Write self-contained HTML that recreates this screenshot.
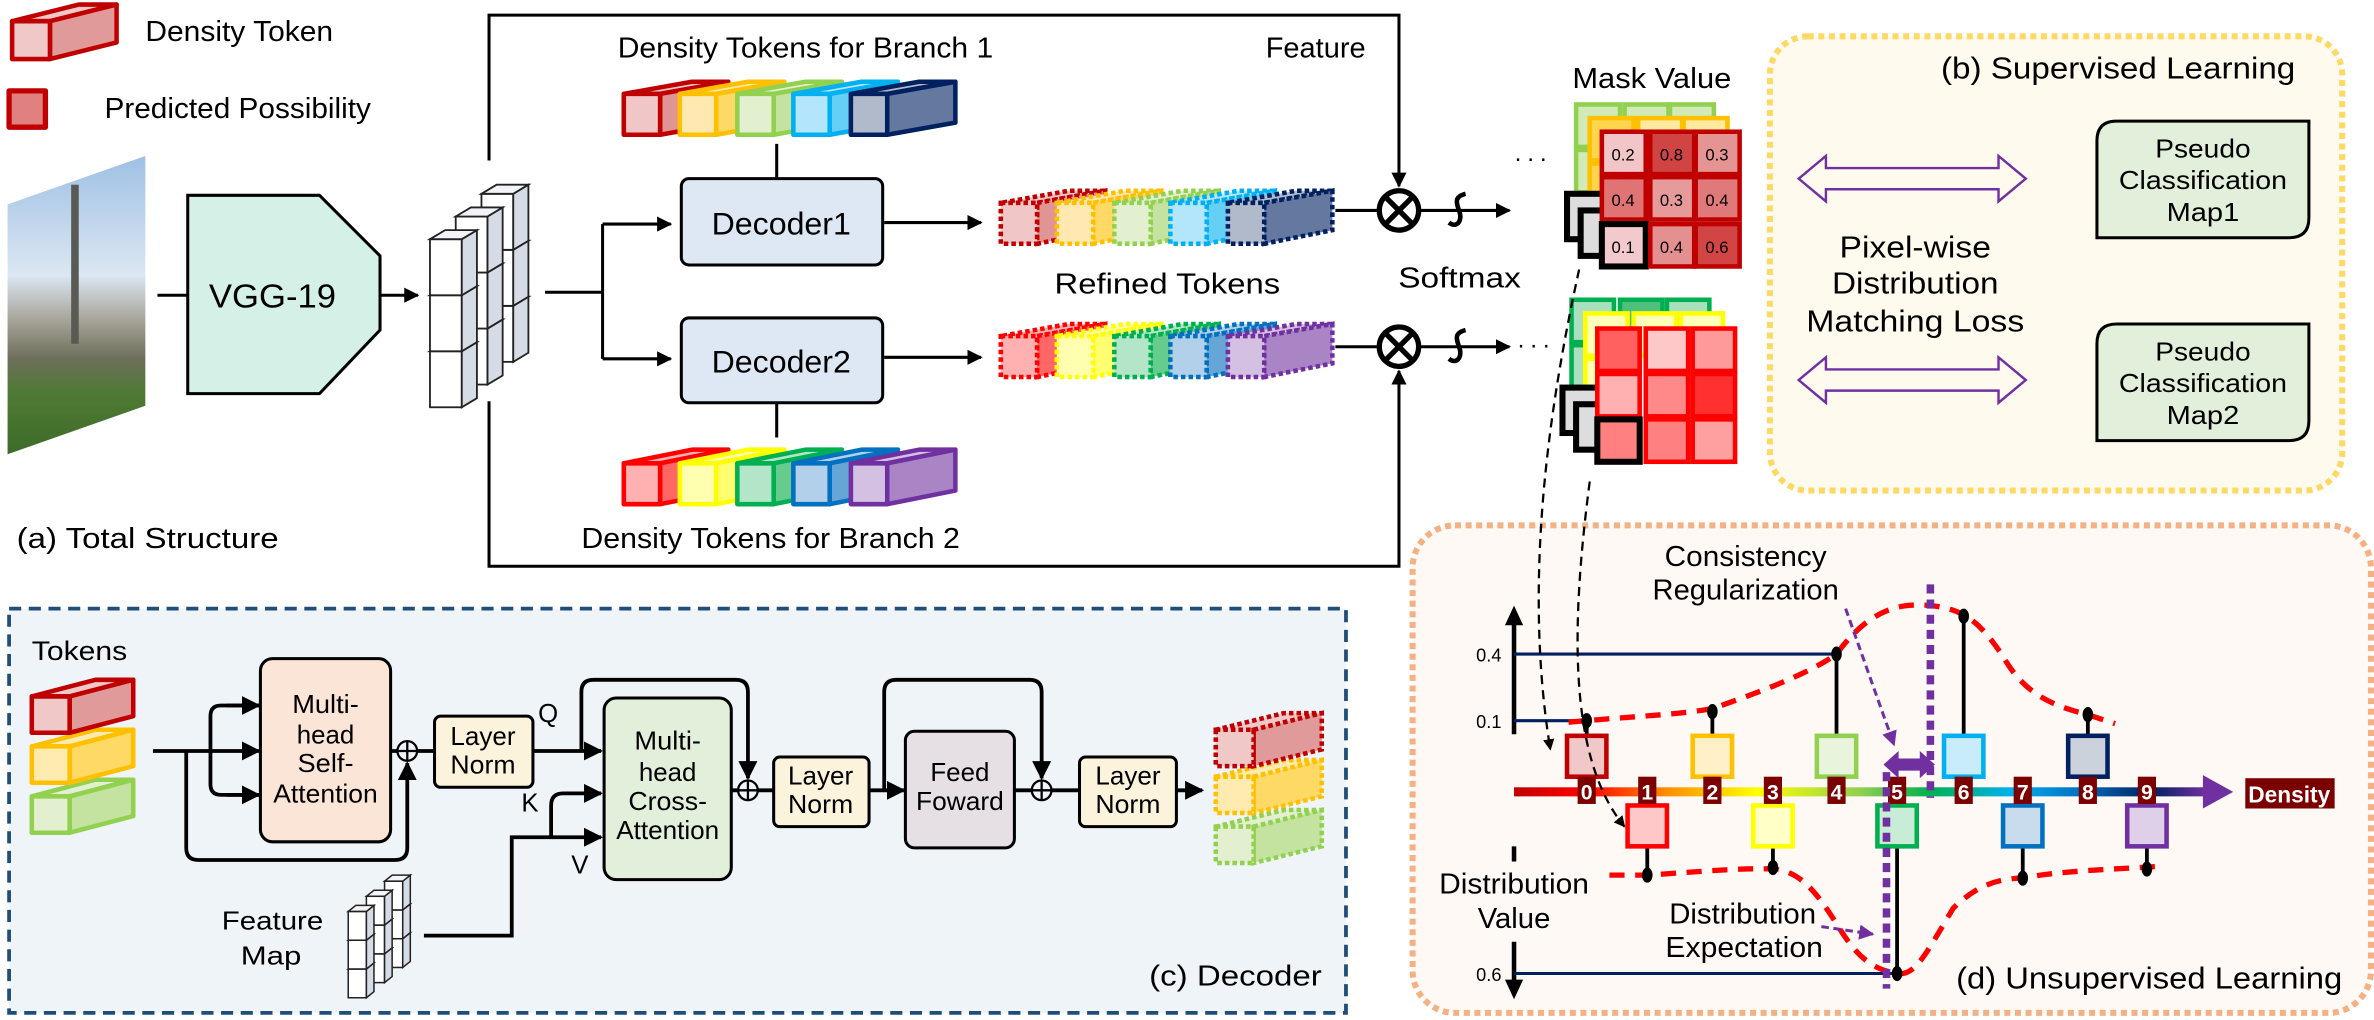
<!DOCTYPE html>
<html><head><meta charset="utf-8"><style>html,body{margin:0;padding:0;background:#fff}svg{display:block}text{font-family:"Liberation Sans",sans-serif;fill:#000}</style></head><body>
<svg width="2374" height="1020" viewBox="0 0 1568 673.7" preserveAspectRatio="none" xmlns="http://www.w3.org/2000/svg">
<defs>
<marker id="ah" viewBox="0 0 10 10" refX="9" refY="5" markerWidth="5" markerHeight="5" orient="auto"><path d="M0,0 L10,5 L0,10 z" fill="#000"/></marker>
<marker id="ap" viewBox="0 0 10 10" refX="9" refY="5" markerWidth="5" markerHeight="5" orient="auto"><path d="M0,0 L10,5 L0,10 z" fill="#7030a0"/></marker>
<linearGradient id="ax" x1="0" x2="1" y1="0" y2="0"><stop offset="0" stop-color="#c00000"/><stop offset=".1" stop-color="#ff0000"/><stop offset=".22" stop-color="#ff8c00"/><stop offset=".35" stop-color="#ffff00"/><stop offset=".5" stop-color="#92d050"/><stop offset=".6" stop-color="#00b050"/><stop offset=".72" stop-color="#00b0f0"/><stop offset=".82" stop-color="#0070c0"/><stop offset=".92" stop-color="#002060"/><stop offset="1" stop-color="#7030a0"/></linearGradient>
<linearGradient id="ph" x1="0" x2="0" y1="0" y2="1"><stop offset="0" stop-color="#9fc0e4"/><stop offset=".4" stop-color="#dbe7f2"/><stop offset=".55" stop-color="#a7a49a"/><stop offset=".68" stop-color="#6d6e5a"/><stop offset=".8" stop-color="#4e7a34"/><stop offset="1" stop-color="#3f6b2a"/></linearGradient>
</defs>

<!-- legend -->
<g stroke="#c00000" stroke-width="3" stroke-linejoin="round">
<polygon points="8,14 33,14 77,3 52,3" fill="#f0c8c8"/><polygon points="33,14 77,3 77,28 33,39" fill="#e09a9a"/><rect x="8" y="14" width="25" height="25" fill="#f0c8c8"/>
<rect x="6" y="60" width="24" height="24" fill="#e08080" stroke-width="3.5"/></g>
<text x="96" y="27" font-size="19" textLength="124" lengthAdjust="spacingAndGlyphs">Density Token</text>
<text x="69" y="78" font-size="19" textLength="176" lengthAdjust="spacingAndGlyphs">Predicted Possibility</text>

<!-- photo -->
<polygon points="5,135 96,103 96,268 5,300" fill="url(#ph)"/>
<rect x="47" y="122" width="5" height="105" fill="#5a5a55"/>
<!-- VGG -->
<path d="M104,195 H124" stroke="#000" stroke-width="2"/>
<polygon points="124,129 211,129 251,169 251,218 211,260 124,260" fill="#d5f0e6" stroke="#000" stroke-width="2"/>
<text x="180" y="203" font-size="22" text-anchor="middle" textLength="84" lengthAdjust="spacingAndGlyphs">VGG-19</text>
<path d="M251,195 H276" stroke="#000" stroke-width="2" marker-end="url(#ah)"/>

<!-- feature cubes -->
<g stroke="#222" stroke-width="1.2">
<g id="fc">
<rect x="318" y="202" width="21" height="37" fill="#fff"/><polygon points="339,202 349,196 349,233 339,239" fill="#d6dce5"/><polygon points="318,202 328,196 349,196 339,202" fill="#f2f4f8"/>
<rect x="318" y="165" width="21" height="37" fill="#fff"/><polygon points="339,165 349,159 349,196 339,202" fill="#d6dce5"/><polygon points="318,165 328,159 349,159 339,165" fill="#f2f4f8"/>
<rect x="318" y="128" width="21" height="37" fill="#fff"/><polygon points="339,128 349,122 349,159 339,165" fill="#d6dce5"/><polygon points="318,128 328,122 349,122 339,128" fill="#f2f4f8"/>
<rect x="301" y="217" width="21" height="37" fill="#fff"/><polygon points="322,217 332,211 332,248 322,254" fill="#d6dce5"/><polygon points="301,217 311,211 332,211 322,217" fill="#f2f4f8"/>
<rect x="301" y="180" width="21" height="37" fill="#fff"/><polygon points="322,180 332,174 332,211 322,217" fill="#d6dce5"/><polygon points="301,180 311,174 332,174 322,180" fill="#f2f4f8"/>
<rect x="301" y="143" width="21" height="37" fill="#fff"/><polygon points="322,143 332,137 332,174 322,180" fill="#d6dce5"/><polygon points="301,143 311,137 332,137 322,143" fill="#f2f4f8"/>
<rect x="284" y="232" width="21" height="37" fill="#fff"/><polygon points="305,232 315,226 315,263 305,269" fill="#d6dce5"/><polygon points="284,232 294,226 315,226 305,232" fill="#f2f4f8"/>
<rect x="284" y="195" width="21" height="37" fill="#fff"/><polygon points="305,195 315,189 315,226 305,232" fill="#d6dce5"/><polygon points="284,195 294,189 315,189 305,195" fill="#f2f4f8"/>
<rect x="284" y="158" width="21" height="37" fill="#fff"/><polygon points="305,158 315,152 315,189 305,195" fill="#d6dce5"/><polygon points="284,158 294,152 315,152 305,158" fill="#f2f4f8"/>
</g></g>

<!-- outer bracket & arrows -->
<g stroke="#000" stroke-width="2" fill="none">
<path d="M323,106 V10 H924 V123" marker-end="url(#ah)"/>
<path d="M323,265 V374 H924 V245" marker-end="url(#ah)"/>
<path d="M360,193 H398 M398,148 V237"/>
<path d="M398,148 H443" marker-end="url(#ah)"/><path d="M398,237 H443" marker-end="url(#ah)"/>
<path d="M513,95 V118 M513,266 V289"/>
<path d="M584,147 H648" marker-end="url(#ah)"/><path d="M584,236 H648" marker-end="url(#ah)"/>
<path d="M882,139 H910 M882,229 H910"/>
<path d="M938,139 H997" marker-end="url(#ah)"/><path d="M938,229 H997" marker-end="url(#ah)"/>
</g>
<g stroke="#000" stroke-width="3.5" fill="#fff">
<circle cx="924" cy="139" r="13"/><path d="M915,130 L933,148 M933,130 L915,148"/>
<circle cx="924" cy="229" r="13"/><path d="M915,220 L933,238 M933,220 L915,238"/>
</g>
<g stroke="#000" stroke-width="3" fill="none">
<path d="M957,147 C962,151 966,146 964,140 C962,134 960,130 968,128"/>
<path d="M957,237 C962,241 966,236 964,230 C962,224 960,220 968,218"/>
</g>
<rect x="450" y="118" width="133" height="57" rx="5" fill="#dde8f4" stroke="#000" stroke-width="2"/>
<rect x="450" y="210" width="133" height="56" rx="5" fill="#dde8f4" stroke="#000" stroke-width="2"/>
<text x="516" y="155" font-size="21" text-anchor="middle" textLength="92" lengthAdjust="spacingAndGlyphs">Decoder1</text>
<text x="516" y="246" font-size="21" text-anchor="middle" textLength="92" lengthAdjust="spacingAndGlyphs">Decoder2</text>

<text x="532" y="38" font-size="19" text-anchor="middle" textLength="248" lengthAdjust="spacingAndGlyphs">Density Tokens for Branch 1</text>
<text x="509" y="362" font-size="19" text-anchor="middle" textLength="250" lengthAdjust="spacingAndGlyphs">Density Tokens for Branch 2</text>
<text x="836" y="38" font-size="19" textLength="66" lengthAdjust="spacingAndGlyphs">Feature</text>
<text x="771" y="194" font-size="19" text-anchor="middle" textLength="149" lengthAdjust="spacingAndGlyphs">Refined Tokens</text>
<text x="964" y="190" font-size="19" text-anchor="middle" textLength="81" lengthAdjust="spacingAndGlyphs">Softmax</text>
<text x="1091" y="58" font-size="19" text-anchor="middle" textLength="105" lengthAdjust="spacingAndGlyphs">Mask Value</text>
<text x="11" y="362" font-size="19" textLength="173" lengthAdjust="spacingAndGlyphs">(a) Total Structure</text>

<!-- branch 1 tokens -->
<g stroke-width="3" stroke-linejoin="round">
<g stroke="#c00000"><polygon points="412,62 436,62 481,54 457,54" fill="#f0c6c6"/><polygon points="436,62 481,54 481,81 436,89" fill="#e09494"/><rect x="412" y="62" width="24" height="27" fill="#f0c6c6"/></g>
<g stroke="#ffc000"><polygon points="449,62 473,62 518,54 494,54" fill="#ffe9b0"/><polygon points="473,62 518,54 518,81 473,89" fill="#ffd966"/><rect x="449" y="62" width="24" height="27" fill="#ffe9b0"/></g>
<g stroke="#92d050"><polygon points="487,62 511,62 556,54 532,54" fill="#e2f0d0"/><polygon points="511,62 556,54 556,81 511,89" fill="#c4e3a0"/><rect x="487" y="62" width="24" height="27" fill="#e2f0d0"/></g>
<g stroke="#00b0f0"><polygon points="524,62 548,62 593,54 569,54" fill="#b3e5fb"/><polygon points="548,62 593,54 593,81 548,89" fill="#66cff5"/><rect x="524" y="62" width="24" height="27" fill="#b3e5fb"/></g>
<g stroke="#002060"><polygon points="562,62 586,62 631,54 607,54" fill="#b0bacb"/><polygon points="586,62 631,54 631,81 586,89" fill="#6478a0"/><rect x="562" y="62" width="24" height="27" fill="#b0bacb"/></g>
</g>
<!-- branch 2 tokens -->
<g stroke-width="3" stroke-linejoin="round">
<g stroke="#ff0000"><polygon points="412,306 436,306 481,297 457,297" fill="#ffb0b0"/><polygon points="436,306 481,297 481,324 436,333" fill="#ff6666"/><rect x="412" y="306" width="24" height="27" fill="#ffb0b0"/></g>
<g stroke="#ffff00"><polygon points="449,306 473,306 518,297 494,297" fill="#ffffb0"/><polygon points="473,306 518,297 518,324 473,333" fill="#ffff70"/><rect x="449" y="306" width="24" height="27" fill="#ffffb0"/></g>
<g stroke="#00b050"><polygon points="487,306 511,306 556,297 532,297" fill="#b3e6c8"/><polygon points="511,306 556,297 556,324 511,333" fill="#66cc8e"/><rect x="487" y="306" width="24" height="27" fill="#b3e6c8"/></g>
<g stroke="#0070c0"><polygon points="524,306 548,306 593,297 569,297" fill="#b3d0ea"/><polygon points="548,306 593,297 593,324 548,333" fill="#66a6d6"/><rect x="524" y="306" width="24" height="27" fill="#b3d0ea"/></g>
<g stroke="#7030a0"><polygon points="562,306 586,306 631,297 607,297" fill="#d4c1e2"/><polygon points="586,306 631,297 631,324 586,333" fill="#a985c6"/><rect x="562" y="306" width="24" height="27" fill="#d4c1e2"/></g>
</g>
<!-- refined 1 -->
<g stroke-width="3" stroke-dasharray="3 2">
<g stroke="#c00000"><polygon points="661,134 685,134 730,126 706,126" fill="#f0c6c6"/><polygon points="685,134 730,126 730,152 685,161" fill="#e09494"/><rect x="661" y="134" width="24" height="27" fill="#f0c6c6"/></g>
<g stroke="#ffc000"><polygon points="698,134 722,134 767,126 743,126" fill="#ffe9b0"/><polygon points="722,134 767,126 767,152 722,161" fill="#ffd966"/><rect x="698" y="134" width="24" height="27" fill="#ffe9b0"/></g>
<g stroke="#92d050"><polygon points="736,134 760,134 805,126 781,126" fill="#e2f0d0"/><polygon points="760,134 805,126 805,152 760,161" fill="#c4e3a0"/><rect x="736" y="134" width="24" height="27" fill="#e2f0d0"/></g>
<g stroke="#00b0f0"><polygon points="773,134 797,134 842,126 818,126" fill="#b3e5fb"/><polygon points="797,134 842,126 842,152 797,161" fill="#66cff5"/><rect x="773" y="134" width="24" height="27" fill="#b3e5fb"/></g>
<g stroke="#002060"><polygon points="811,134 835,134 880,126 856,126" fill="#b0bacb"/><polygon points="835,134 880,126 880,152 835,161" fill="#6478a0"/><rect x="811" y="134" width="24" height="27" fill="#b0bacb"/></g>
</g>
<!-- refined 2 -->
<g stroke-width="3" stroke-dasharray="3 2">
<g stroke="#ff0000"><polygon points="661,222 685,222 730,214 706,214" fill="#ffb0b0"/><polygon points="685,222 730,214 730,240 685,249" fill="#ff6666"/><rect x="661" y="222" width="24" height="27" fill="#ffb0b0"/></g>
<g stroke="#ffff00"><polygon points="698,222 722,222 767,214 743,214" fill="#ffffb0"/><polygon points="722,222 767,214 767,240 722,249" fill="#ffff70"/><rect x="698" y="222" width="24" height="27" fill="#ffffb0"/></g>
<g stroke="#00b050"><polygon points="736,222 760,222 805,214 781,214" fill="#b3e6c8"/><polygon points="760,222 805,214 805,240 760,249" fill="#66cc8e"/><rect x="736" y="222" width="24" height="27" fill="#b3e6c8"/></g>
<g stroke="#0070c0"><polygon points="773,222 797,222 842,214 818,214" fill="#b3d0ea"/><polygon points="797,222 842,214 842,240 797,249" fill="#66a6d6"/><rect x="773" y="222" width="24" height="27" fill="#b3d0ea"/></g>
<g stroke="#7030a0"><polygon points="811,222 835,222 880,214 856,214" fill="#d4c1e2"/><polygon points="835,222 880,214 880,240 835,249" fill="#a985c6"/><rect x="811" y="222" width="24" height="27" fill="#d4c1e2"/></g>
</g>

<!-- mask grids -->
<text x="1000" y="110" font-size="16" letter-spacing="3">···</text>
<text x="1002" y="233" font-size="16" letter-spacing="3">···</text>
<g stroke-width="3">
<g stroke="#92d050" fill="#d2eab8"><rect x="1041" y="69" width="29" height="28"/><rect x="1073" y="69" width="29" height="28"/><rect x="1103" y="69" width="29" height="28"/><rect x="1041" y="99" width="29" height="28"/><rect x="1041" y="130" width="29" height="28"/></g>
<g stroke="#ffc000" fill="#ffd54f"><rect x="1050" y="78" width="29" height="28"/><rect x="1082" y="78" width="29" height="28" fill="#ffeaa0"/><rect x="1112" y="78" width="29" height="28" fill="#ffeaa0"/><rect x="1050" y="108" width="29" height="28"/><rect x="1050" y="139" width="29" height="28"/></g>
<g stroke="#000" stroke-width="4" fill="#ddd"><rect x="1035" y="128" width="24" height="30"/><rect x="1044" y="139" width="24" height="30"/></g>
<g stroke="#c00000">
<rect x="1058" y="87" width="29" height="28" fill="#f2c5c8"/><rect x="1090" y="87" width="29" height="28" fill="#d04444"/><rect x="1120" y="87" width="29" height="28" fill="#e59494"/>
<rect x="1058" y="117" width="29" height="28" fill="#e07474"/><rect x="1090" y="117" width="29" height="28" fill="#e69a9a"/><rect x="1120" y="117" width="29" height="28" fill="#e07a7a"/>
<rect x="1058" y="148" width="29" height="28" fill="#f2c9cc" stroke="#000" stroke-width="4"/><rect x="1090" y="148" width="29" height="28" fill="#e59090"/><rect x="1120" y="148" width="29" height="28" fill="#d24545"/></g>
</g>
<g font-size="11" text-anchor="middle" style="fill:#1f3864"><text x="1072" y="106" fill="#1f3864">0.2</text><text x="1104" y="106" fill="#1f3864">0.8</text><text x="1134" y="106" fill="#1f3864">0.3</text><text x="1072" y="136" fill="#1f3864">0.4</text><text x="1104" y="136" fill="#1f3864">0.3</text><text x="1134" y="136" fill="#1f3864">0.4</text><text x="1072" y="167" fill="#1f3864">0.1</text><text x="1104" y="167" fill="#1f3864">0.4</text><text x="1134" y="167" fill="#1f3864">0.6</text></g>
<g stroke-width="3">
<g stroke="#00b050" fill="#a8e0c0"><rect x="1038" y="198" width="28" height="28"/><rect x="1070" y="198" width="28" height="28" fill="#50c080"/><rect x="1101" y="198" width="28" height="28"/><rect x="1038" y="228" width="28" height="28"/><rect x="1038" y="258" width="28" height="28"/></g>
<g stroke="#ffff00" fill="#ffffb8"><rect x="1047" y="207" width="28" height="28"/><rect x="1079" y="207" width="28" height="28"/><rect x="1110" y="207" width="28" height="28"/><rect x="1047" y="237" width="28" height="28"/><rect x="1047" y="267" width="28" height="28"/></g>
<g stroke="#000" stroke-width="4" fill="#ddd"><rect x="1032" y="256" width="24" height="30"/><rect x="1041" y="267" width="24" height="30"/></g>
<g stroke="#ff0000">
<rect x="1055" y="217" width="28" height="28" fill="#ff6060"/><rect x="1087" y="217" width="28" height="28" fill="#ffc8c8"/><rect x="1118" y="217" width="28" height="28" fill="#ff9a9a"/>
<rect x="1055" y="247" width="28" height="28" fill="#ffb0b0"/><rect x="1087" y="247" width="28" height="28" fill="#ff8888"/><rect x="1118" y="247" width="28" height="28" fill="#ff3030"/>
<rect x="1055" y="277" width="28" height="28" fill="#ff8080" stroke="#000" stroke-width="4"/><rect x="1087" y="277" width="28" height="28" fill="#ff8080"/><rect x="1118" y="277" width="28" height="28" fill="#ffa0a0"/></g>
</g>

<!-- panel b -->
<rect x="1169" y="24" width="378" height="300" rx="25" fill="#fffaee" stroke="#ffd966" stroke-width="4" stroke-dasharray="4 3"/>
<text x="1282" y="52" font-size="20" textLength="234" lengthAdjust="spacingAndGlyphs">(b) Supervised Learning</text>
<g fill="none" stroke="#7030a0" stroke-width="1.6">
<polygon points="1188,118 1206,103 1206,111 1320,111 1320,103 1338,118 1320,133 1320,125 1206,125 1206,133"/>
<polygon points="1188,251 1206,236 1206,244 1320,244 1320,236 1338,251 1320,266 1320,258 1206,258 1206,266"/>
</g>
<text x="1265" y="170" font-size="20" text-anchor="middle" textLength="100" lengthAdjust="spacingAndGlyphs">Pixel-wise</text>
<text x="1265" y="194" font-size="20" text-anchor="middle" textLength="110" lengthAdjust="spacingAndGlyphs">Distribution</text>
<text x="1265" y="219" font-size="20" text-anchor="middle" textLength="144" lengthAdjust="spacingAndGlyphs">Matching Loss</text>
<g fill="#e2efda" stroke="#000" stroke-width="2">
<path d="M1385,93 Q1385,80 1398,80 H1525 V144 Q1525,157 1512,157 H1385 Z"/>
<path d="M1385,227 Q1385,214 1398,214 H1525 V278 Q1525,291 1512,291 H1385 Z"/>
</g>
<g font-size="17" text-anchor="middle">
<text x="1455" y="104" textLength="63" lengthAdjust="spacingAndGlyphs">Pseudo</text><text x="1455" y="125" textLength="111" lengthAdjust="spacingAndGlyphs">Classification</text><text x="1455" y="146" textLength="48" lengthAdjust="spacingAndGlyphs">Map1</text>
<text x="1455" y="238" textLength="63" lengthAdjust="spacingAndGlyphs">Pseudo</text><text x="1455" y="259" textLength="111" lengthAdjust="spacingAndGlyphs">Classification</text><text x="1455" y="280" textLength="48" lengthAdjust="spacingAndGlyphs">Map2</text>
</g>

<!-- panel d -->
<rect x="933" y="347" width="633" height="322" rx="28" fill="#fff9f5" stroke="#f4b183" stroke-width="4" stroke-dasharray="4 3"/>
<text x="1153" y="374" font-size="19" text-anchor="middle" textLength="107" lengthAdjust="spacingAndGlyphs">Consistency</text>
<text x="1153" y="396" font-size="19" text-anchor="middle" textLength="123" lengthAdjust="spacingAndGlyphs">Regularization</text>
<text x="1000" y="590" font-size="19" text-anchor="middle" textLength="99" lengthAdjust="spacingAndGlyphs">Distribution</text>
<text x="1000" y="613" font-size="19" text-anchor="middle" textLength="48" lengthAdjust="spacingAndGlyphs">Value</text>
<text x="1151" y="610" font-size="19" text-anchor="middle" textLength="97" lengthAdjust="spacingAndGlyphs">Distribution</text>
<text x="1152" y="632" font-size="19" text-anchor="middle" textLength="104" lengthAdjust="spacingAndGlyphs">Expectation</text>
<text x="1292" y="653" font-size="20" textLength="255" lengthAdjust="spacingAndGlyphs">(d) Unsupervised Learning</text>
<g font-size="12"><text x="975" y="437">0.4</text><text x="975" y="481">0.1</text><text x="975" y="648">0.6</text></g>
<g stroke="#000" stroke-width="3"><path d="M1000,485 V410 M1000,622 V650 M1000,559 V569"/></g>
<polygon points="994,413 1000,400 1006,413" fill="#000"/><polygon points="994,647 1000,660 1006,647" fill="#000"/>
<g stroke="#002060" stroke-width="2"><path d="M1000,432 H1213 M1000,476 H1047 M1000,643 H1253"/></g>
<rect x="1000" y="520" width="457" height="6" fill="url(#ax)"/>
<polygon points="1455,512 1475,523 1455,534" fill="#7030a0"/>
<rect x="1483" y="514" width="59" height="20" fill="#7b0000"/>
<text x="1512" y="530" font-size="15" font-weight="bold" text-anchor="middle" style="fill:#fff">Density</text>
<!-- red dashed curves -->
<g fill="none" stroke="#ff0000" stroke-width="3.5" stroke-dasharray="10 7">
<path d="M1036,477 C1080,473 1110,472 1131,468 C1160,458 1195,445 1213,432 C1235,402 1255,398 1275,400 C1300,402 1310,415 1322,432 C1335,455 1350,465 1379,472 L1397,478"/>
<path d="M1063,578 L1088,578 C1120,576 1150,573 1172,574 C1190,576 1200,590 1213,610 C1225,630 1235,640 1253,643 C1265,645 1272,630 1290,600 C1305,585 1320,580 1336,580 C1360,575 1400,574 1430,572"/>
</g>
<!-- stems -->
<g stroke="#000" stroke-width="2.5"><path d="M1048,485 V476 M1131,485 V470 M1213,485 V432 M1297,485 V407 M1379,485 V472 M1088,559 V578 M1171,559 V573 M1253,559 V643 M1336,559 V580 M1418,559 V574"/></g>
<g fill="#000"><ellipse cx="1048" cy="476" rx="3.5" ry="5"/><ellipse cx="1131" cy="470" rx="3.5" ry="5"/><ellipse cx="1213" cy="432" rx="3.5" ry="5"/><ellipse cx="1297" cy="407" rx="3.5" ry="5"/><ellipse cx="1379" cy="472" rx="3.5" ry="5"/><ellipse cx="1088" cy="578" rx="3.5" ry="5"/><ellipse cx="1171" cy="573" rx="3.5" ry="5"/><ellipse cx="1253" cy="643" rx="3.5" ry="5"/><ellipse cx="1336" cy="580" rx="3.5" ry="5"/><ellipse cx="1418" cy="574" rx="3.5" ry="5"/></g>
<g stroke-width="3">
<rect x="1035" y="486" width="26" height="27" stroke="#c00000" fill="#f0c8c8"/>
<rect x="1118" y="486" width="26" height="27" stroke="#ffc000" fill="#fff0c8"/>
<rect x="1200" y="486" width="26" height="27" stroke="#92d050" fill="#e8f4dc"/>
<rect x="1284" y="486" width="26" height="27" stroke="#00b0f0" fill="#c8ecfa"/>
<rect x="1366" y="486" width="26" height="27" stroke="#002060" fill="#ccd2dc"/>
<rect x="1075" y="532" width="26" height="27" stroke="#ff0000" fill="#ffc8c8"/>
<rect x="1158" y="532" width="26" height="27" stroke="#ffff00" fill="#ffffc8"/>
<rect x="1240" y="532" width="26" height="27" stroke="#00b050" fill="#c8ecd6"/>
<rect x="1323" y="532" width="26" height="27" stroke="#0070c0" fill="#c8dcee"/>
<rect x="1405" y="532" width="26" height="27" stroke="#7030a0" fill="#ddd0e8"/>
</g>
<g fill="#7b0000"><rect x="1042" y="513" width="12" height="18"/><rect x="1082" y="513" width="12" height="18"/><rect x="1125" y="513" width="12" height="18"/><rect x="1165" y="513" width="12" height="18"/><rect x="1207" y="513" width="12" height="18"/><rect x="1247" y="513" width="12" height="18"/><rect x="1291" y="513" width="12" height="18"/><rect x="1330" y="513" width="12" height="18"/><rect x="1373" y="513" width="12" height="18"/><rect x="1412" y="513" width="12" height="18"/></g>
<g font-size="14" font-weight="bold" text-anchor="middle" style="fill:#fff">
<text x="1048" y="528" style="fill:#fff">0</text><text x="1088" y="528" style="fill:#fff">1</text><text x="1131" y="528" style="fill:#fff">2</text><text x="1171" y="528" style="fill:#fff">3</text><text x="1213" y="528" style="fill:#fff">4</text><text x="1253" y="528" style="fill:#fff">5</text><text x="1297" y="528" style="fill:#fff">6</text><text x="1336" y="528" style="fill:#fff">7</text><text x="1379" y="528" style="fill:#fff">8</text><text x="1418" y="528" style="fill:#fff">9</text></g>
<!-- purple -->
<g stroke="#7030a0" stroke-width="5" stroke-dasharray="6 4" fill="none"><path d="M1275,386 V527 M1246,510 V653"/></g>
<polygon points="1244,505 1254,496 1254,501 1268,501 1268,496 1278,505 1268,514 1268,509 1254,509 1254,514" fill="#7030a0"/>
<g stroke="#7030a0" stroke-width="2" stroke-dasharray="5 3" fill="none"><path d="M1219,402 L1251,492" marker-end="url(#ap)"/><path d="M1203,612 L1237,617" marker-end="url(#ap)"/></g>
<!-- black dashed connectors -->
<g stroke="#000" stroke-width="1.5" stroke-dasharray="6 4" fill="none">
<path d="M1043,178 C1025,260 1005,380 1024,495" marker-end="url(#ah)"/>
<path d="M1050,318 C1038,410 1035,500 1073,546" marker-end="url(#ah)"/>
</g>

<!-- panel c -->
<rect x="6" y="402" width="883" height="267" fill="#eef4f8" stroke="#1f4e79" stroke-width="2.5" stroke-dasharray="8 5"/>
<text x="21" y="436" font-size="18" textLength="63" lengthAdjust="spacingAndGlyphs">Tokens</text>
<g stroke-width="3" stroke-linejoin="round">
<g stroke="#92d050"><polygon points="21,526 46,526 88,515 63,515" fill="#e2f0d0"/><polygon points="46,526 88,515 88,539 46,550" fill="#c4e3a0"/><rect x="21" y="526" width="25" height="24" fill="#e2f0d0"/></g>
<g stroke="#ffc000"><polygon points="21,493 46,493 88,482 63,482" fill="#ffebb0"/><polygon points="46,493 88,482 88,506 46,517" fill="#ffd966"/><rect x="21" y="493" width="25" height="24" fill="#ffebb0"/></g>
<g stroke="#c00000"><polygon points="21,460 46,460 88,449 63,449" fill="#f0c8c8"/><polygon points="46,460 88,449 88,473 46,484" fill="#e09a9a"/><rect x="21" y="460" width="25" height="24" fill="#f0c8c8"/></g>
</g>
<g stroke-width="3" stroke-dasharray="3 2">
<g stroke="#92d050"><polygon points="803,546 828,546 873,535 848,535" fill="#e2f0d0"/><polygon points="828,546 873,535 873,559 828,570" fill="#c4e3a0"/><rect x="803" y="546" width="25" height="24" fill="#e2f0d0"/></g>
<g stroke="#ffc000"><polygon points="803,513 828,513 873,502 848,502" fill="#ffebb0"/><polygon points="828,513 873,502 873,526 828,537" fill="#ffd966"/><rect x="803" y="513" width="25" height="24" fill="#ffebb0"/></g>
<g stroke="#c00000"><polygon points="803,482 828,482 873,471 848,471" fill="#f0c8c8"/><polygon points="828,482 873,471 873,495 828,506" fill="#e09a9a"/><rect x="803" y="482" width="25" height="24" fill="#f0c8c8"/></g>
</g>
<g stroke="#000" stroke-width="2.5" fill="none">
<path d="M101,496 H171" marker-end="url(#ah)"/>
<path d="M171,466 H146 Q139,466 139,473 V518 Q139,525 146,525 H171" />
<path d="M150,466 H171" marker-end="url(#ah)"/><path d="M150,525 H171" marker-end="url(#ah)"/>
<path d="M123,496 V560 Q123,568 131,568 H261 Q269,568 269,560 V504" marker-end="url(#ah)"/>
<path d="M258,496 H262 M276,496 H287"/>
<path d="M352,496 H397" marker-end="url(#ah)"/>
<path d="M384,496 V457 Q384,449 392,449 H486 Q494,449 494,457 V514" marker-end="url(#ah)"/>
<path d="M483,522 H487 M501,522 H511"/>
<path d="M574,522 H597" marker-end="url(#ah)"/>
<path d="M584,522 V457 Q584,449 592,449 H680 Q688,449 688,457 V514" marker-end="url(#ah)"/>
<path d="M670,522 H681 M695,522 H713"/>
<path d="M777,522 H794" marker-end="url(#ah)"/>
<path d="M280,618 H338 V553 H397" marker-end="url(#ah)"/>
<path d="M364,553 V532 Q364,524 372,524 H397" marker-end="url(#ah)"/>
</g>
<g stroke="#000" stroke-width="1.5" fill="none">
<circle cx="269" cy="496" r="6.5"/><path d="M262.5,496 H275.5 M269,489.5 V502.5"/>
<circle cx="494" cy="522" r="6.5"/><path d="M487.5,522 H500.5 M494,515.5 V528.5"/>
<circle cx="688" cy="522" r="6.5"/><path d="M681.5,522 H694.5 M688,515.5 V528.5"/>
</g>
<rect x="172" y="435" width="86" height="121" rx="8" fill="#fbe5d6" stroke="#000" stroke-width="2"/>
<rect x="287" y="473" width="65" height="47" rx="4" fill="#fcf3dc" stroke="#000" stroke-width="2"/>
<rect x="399" y="461" width="84" height="120" rx="8" fill="#e2efda" stroke="#000" stroke-width="2"/>
<rect x="511" y="500" width="63" height="46" rx="4" fill="#fcf3dc" stroke="#000" stroke-width="2"/>
<rect x="598" y="483" width="72" height="77" rx="6" fill="#e6dfe4" stroke="#000" stroke-width="2"/>
<rect x="713" y="500" width="64" height="46" rx="4" fill="#fcf3dc" stroke="#000" stroke-width="2"/>
<g font-size="17" text-anchor="middle">
<text x="215" y="471" textLength="44" lengthAdjust="spacingAndGlyphs">Multi-</text><text x="215" y="491" textLength="38" lengthAdjust="spacingAndGlyphs">head</text><text x="215" y="510" textLength="37" lengthAdjust="spacingAndGlyphs">Self-</text><text x="215" y="530" textLength="69" lengthAdjust="spacingAndGlyphs">Attention</text>
<text x="319" y="492" textLength="43" lengthAdjust="spacingAndGlyphs">Layer</text><text x="319" y="511" textLength="43" lengthAdjust="spacingAndGlyphs">Norm</text>
<text x="441" y="495" textLength="44" lengthAdjust="spacingAndGlyphs">Multi-</text><text x="441" y="516" textLength="38" lengthAdjust="spacingAndGlyphs">head</text><text x="441" y="535" textLength="52" lengthAdjust="spacingAndGlyphs">Cross-</text><text x="441" y="554" textLength="68" lengthAdjust="spacingAndGlyphs">Attention</text>
<text x="542" y="518" textLength="43" lengthAdjust="spacingAndGlyphs">Layer</text><text x="542" y="537" textLength="43" lengthAdjust="spacingAndGlyphs">Norm</text>
<text x="634" y="516" textLength="39" lengthAdjust="spacingAndGlyphs">Feed</text><text x="634" y="535" textLength="58" lengthAdjust="spacingAndGlyphs">Foward</text>
<text x="745" y="518" textLength="43" lengthAdjust="spacingAndGlyphs">Layer</text><text x="745" y="537" textLength="43" lengthAdjust="spacingAndGlyphs">Norm</text>
<text x="362" y="477">Q</text><text x="350" y="536">K</text><text x="383" y="577">V</text>
<text x="180" y="614" textLength="67" lengthAdjust="spacingAndGlyphs">Feature</text><text x="179" y="637" textLength="40" lengthAdjust="spacingAndGlyphs">Map</text>
</g>
<text x="759" y="651" font-size="19" textLength="114" lengthAdjust="spacingAndGlyphs">(c) Decoder</text>
<!-- small feature map -->
<g stroke="#222" stroke-width="1">
<rect x="254" y="620" width="12" height="19" fill="#fff"/><polygon points="266,620 271,616 271,635 266,639" fill="#d6dce5"/><polygon points="254,620 259,616 271,616 266,620" fill="#f2f4f8"/>
<rect x="254" y="601" width="12" height="19" fill="#fff"/><polygon points="266,601 271,597 271,616 266,620" fill="#d6dce5"/><polygon points="254,601 259,597 271,597 266,601" fill="#f2f4f8"/>
<rect x="254" y="582" width="12" height="19" fill="#fff"/><polygon points="266,582 271,578 271,597 266,601" fill="#d6dce5"/><polygon points="254,582 259,578 271,578 266,582" fill="#f2f4f8"/>
<rect x="242" y="630" width="12" height="19" fill="#fff"/><polygon points="254,630 259,626 259,645 254,649" fill="#d6dce5"/><polygon points="242,630 247,626 259,626 254,630" fill="#f2f4f8"/>
<rect x="242" y="611" width="12" height="19" fill="#fff"/><polygon points="254,611 259,607 259,626 254,630" fill="#d6dce5"/><polygon points="242,611 247,607 259,607 254,611" fill="#f2f4f8"/>
<rect x="242" y="592" width="12" height="19" fill="#fff"/><polygon points="254,592 259,588 259,607 254,611" fill="#d6dce5"/><polygon points="242,592 247,588 259,588 254,592" fill="#f2f4f8"/>
<rect x="230" y="640" width="12" height="19" fill="#fff"/><polygon points="242,640 247,636 247,655 242,659" fill="#d6dce5"/><polygon points="230,640 235,636 247,636 242,640" fill="#f2f4f8"/>
<rect x="230" y="621" width="12" height="19" fill="#fff"/><polygon points="242,621 247,617 247,636 242,640" fill="#d6dce5"/><polygon points="230,621 235,617 247,617 242,621" fill="#f2f4f8"/>
<rect x="230" y="602" width="12" height="19" fill="#fff"/><polygon points="242,602 247,598 247,617 242,621" fill="#d6dce5"/><polygon points="230,602 235,598 247,598 242,602" fill="#f2f4f8"/>
</g>
</svg>
</body></html>
